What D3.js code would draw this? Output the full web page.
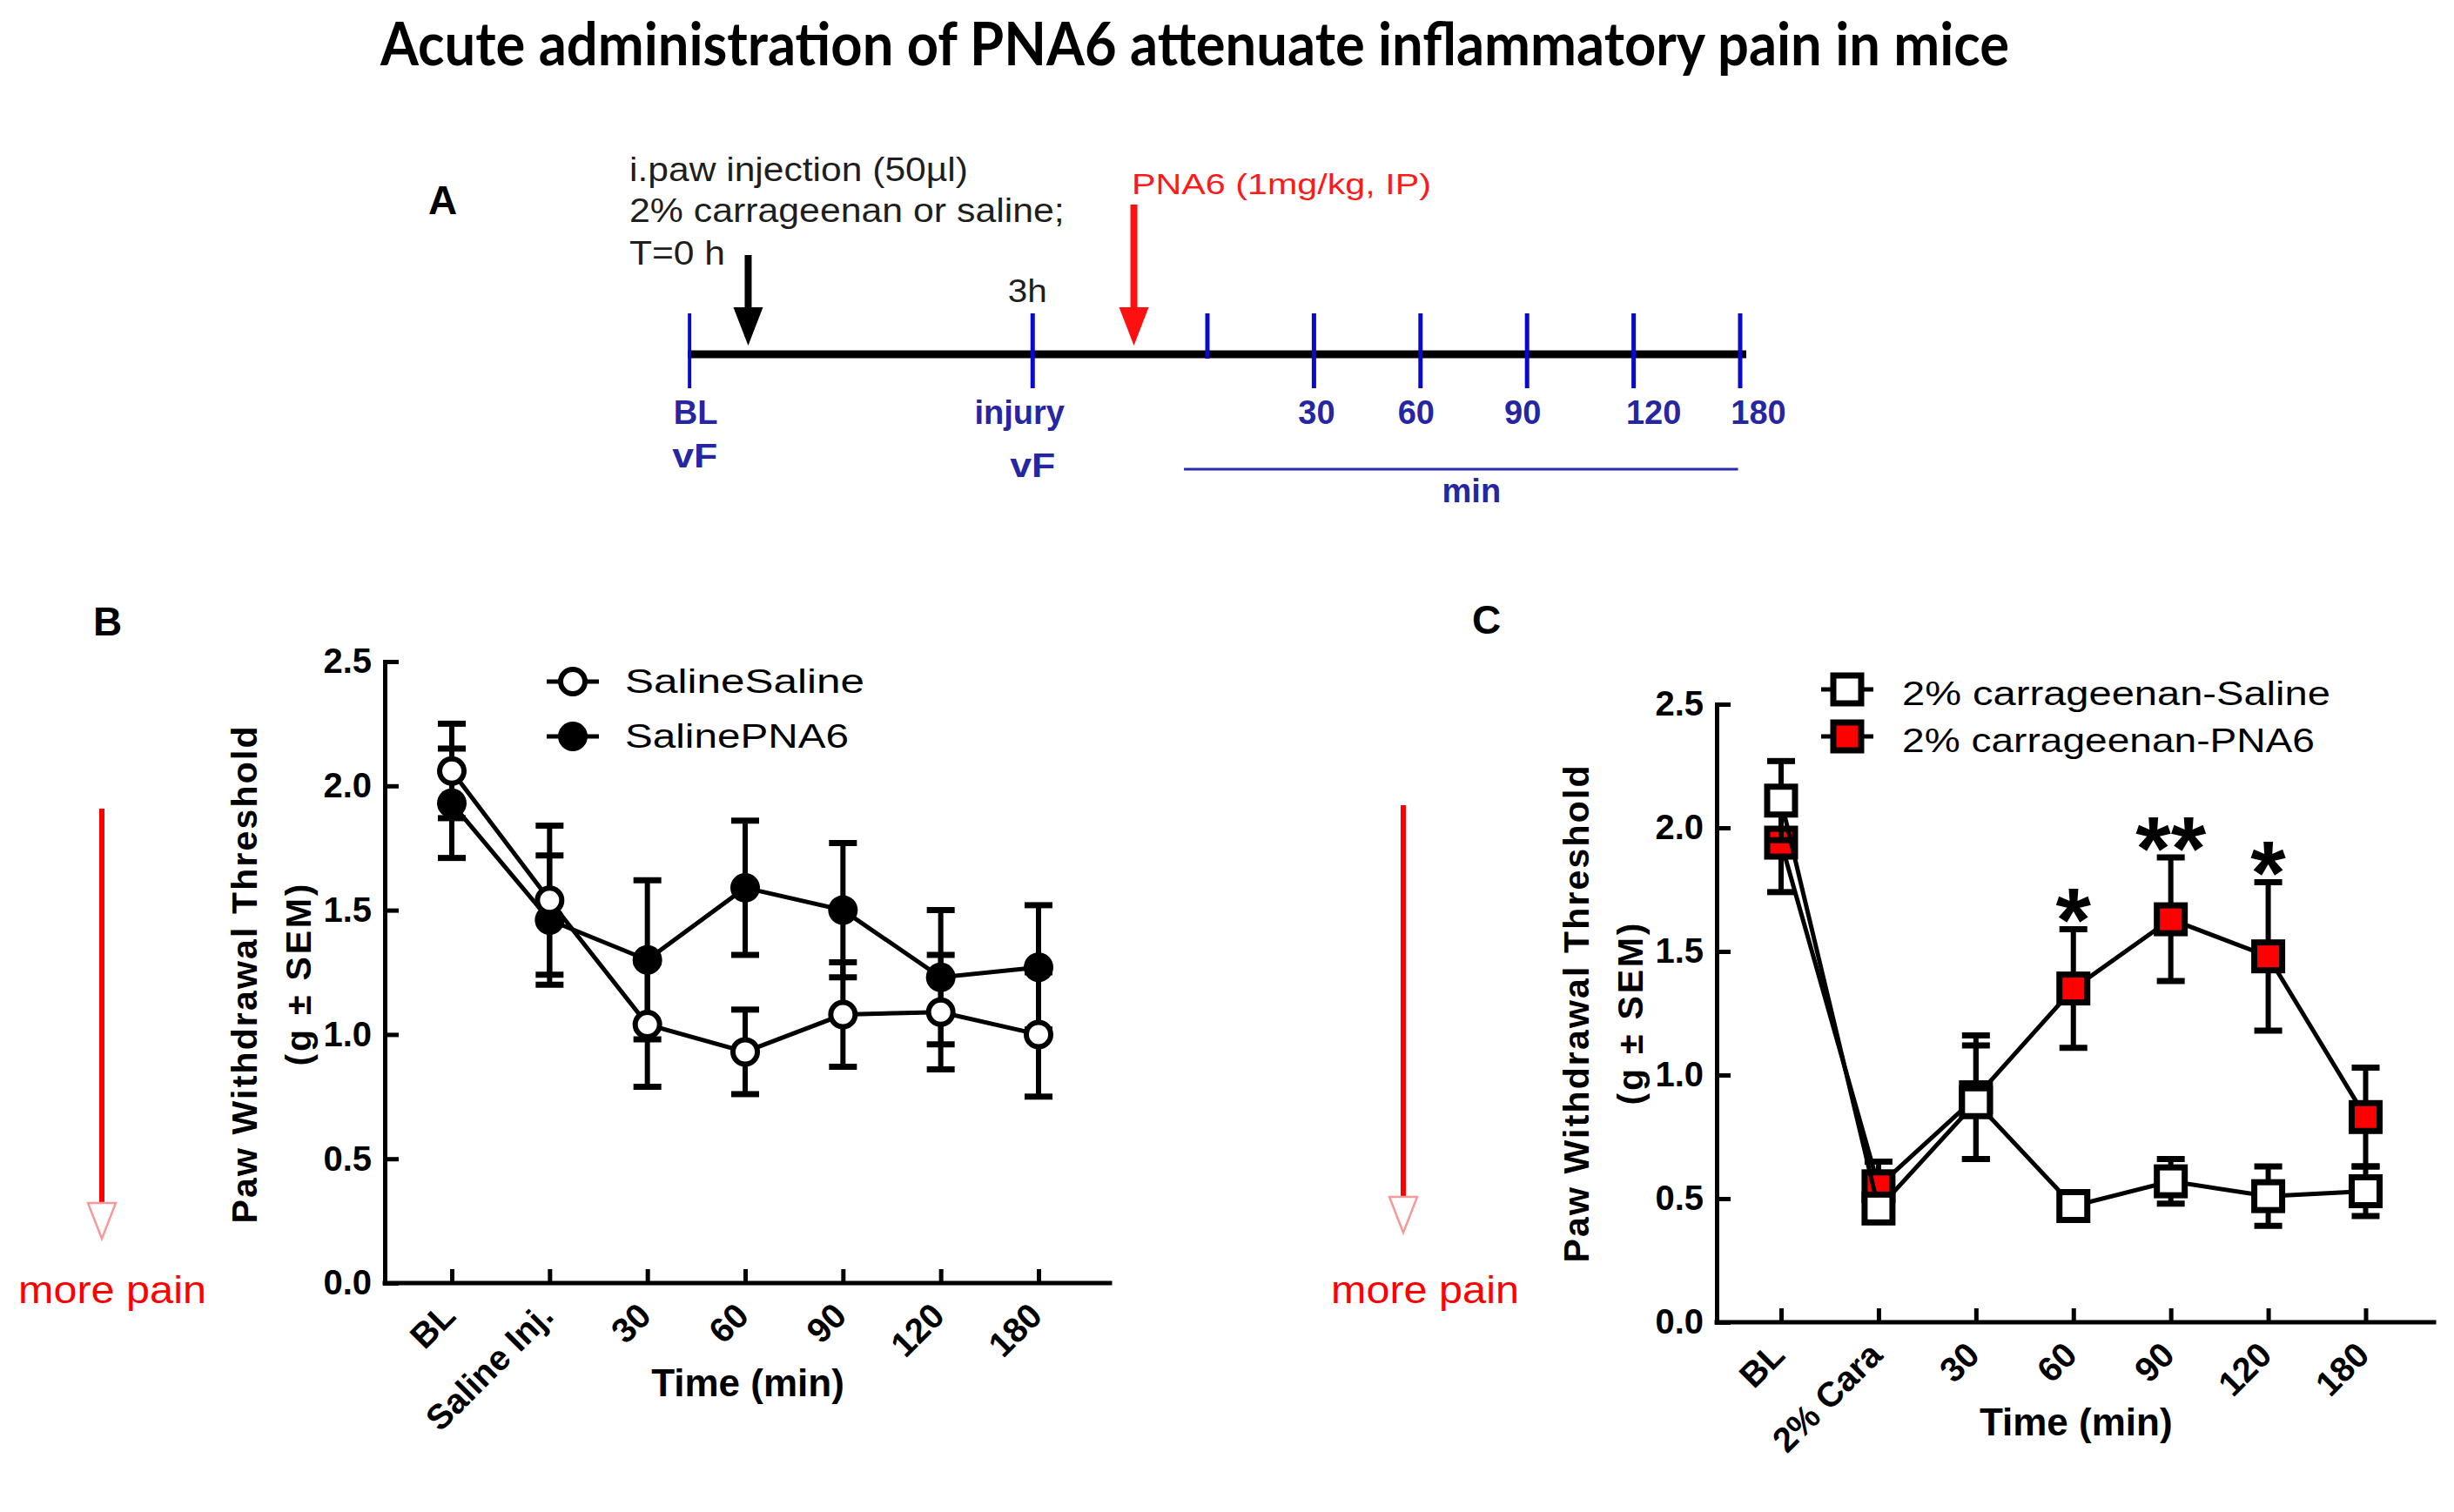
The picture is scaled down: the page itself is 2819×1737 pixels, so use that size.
<!DOCTYPE html>
<html>
<head>
<meta charset="utf-8">
<script src="https://cdn.jsdelivr.net/npm/d3@7"></script>
<style>
  body { margin: 0; background: #fff; }
  svg { display: block; }
</style>
</head>
<body>
<div class="chart"></div>
<script>
// ---- data ----
const title = "Acute administration of PNA6 attenuate inflammatory pain in mice";

// panel A timeline (schematic slots, 1 slot = one 30 min step after PNA6)
const timelineLabels = ["BL", "injury", "", "30", "60", "90", "120", "180"];
const timelineSlots = [-4.86, -1.64, 0, 1, 2, 3, 4, 5];
const injectionSlot = -4.31;
const pna6Slot = -0.69;

// panel B
const timeB = ["BL", "Saline Inj.", "30", "60", "90", "120", "180"];
const salineSalineMean = [2.06, 1.54, 1.04, 0.93, 1.08, 1.09, 1.00];
const salineSalineSem  = [0.19, 0.30, 0.25, 0.17, 0.21, 0.23, 0.25];
const salinePna6Mean   = [1.93, 1.46, 1.30, 1.59, 1.50, 1.23, 1.27];
const salinePna6Sem    = [0.22, 0.26, 0.32, 0.27, 0.27, 0.27, 0.25];

// panel C
const timeC = ["BL", "2% Cara", "30", "60", "90", "120", "180"];
const caraSalineMean = [2.11, 0.46, 0.89, 0.47, 0.57, 0.51, 0.53];
const caraSalineSem  = [0.16, 0.05, 0.23, 0.04, 0.09, 0.12, 0.10];
const caraPna6Mean   = [1.94, 0.55, 0.91, 1.35, 1.63, 1.48, 0.83];
const caraPna6Sem    = [0.20, 0.10, 0.25, 0.24, 0.25, 0.30, 0.20];
const caraStars      = ["", "", "", "*", "**", "*", ""];

const yTicks = [0, 0.5, 1, 1.5, 2, 2.5];

// ---- drawing ----
const W = 2819, H = 1737;
const FONT = "'Liberation Sans', Arial, sans-serif";

const svg = d3.select(".chart").append("svg")
    .attr("width", W)
    .attr("height", H)
    .style("font-family", FONT);

// stretch a text along its own direction to a given width
function fit(sel, w) {
    sel.each(function() {
        const t = d3.select(this);
        const k = w / this.getBBox().width;
        t.attr("transform", (t.attr("transform") || "") + ` scale(${k},1)`);
    });
}

function label(x, y, str, size, opts = {}) {
    const t = svg.append("text")
        .attr("transform", `translate(${x},${y})` + (opts.rotate ? ` rotate(${opts.rotate})` : ""))
        .attr("font-size", size)
        .attr("font-weight", opts.bold ? "bold" : "normal")
        .attr("font-family", opts.family || FONT)
        .attr("text-anchor", opts.anchor || "start")
        .attr("fill", opts.fill || "#000")
        .text(str);
    if (opts.width) fit(t, opts.width);
    return t;
}

function arrow(x, y1, y2, o) {
    svg.append("line")
        .attr("x1", x).attr("x2", x)
        .attr("y1", y1).attr("y2", y2 - o.head + 2)
        .attr("stroke", o.color)
        .attr("stroke-width", o.shaft);
    svg.append("path")
        .attr("d", `M${x - o.half},${y2 - o.head}L${x + o.half},${y2 - o.head}L${x},${y2}Z`)
        .attr("fill", o.fill || o.color)
        .attr("stroke", o.stroke || "none")
        .attr("stroke-width", o.strokeW || 0);
}

// title
label(437, 75, title, 69, {bold: true, family: "Lato, 'Open Sans', sans-serif", width: 1872});

// panel letters
label(492, 246, "A", 46, {bold: true});
label(107, 730, "B", 46, {bold: true});
label(1691, 728, "C", 46, {bold: true});

// ---- panel A ----
const tl = d3.scaleLinear().domain([0, 5]).range([1387, 1999]);
const lineY = 407;
const blue = "#0a0ac8", blueText = "#2626a2";

label(723, 208, "i.paw injection  (50\u00b5l)", 38, {fill: "#1e1e1e", width: 389});
label(723, 255, "2% carrageenan or saline;", 38, {fill: "#1e1e1e", width: 500});
label(723, 304, "T=0 h", 38, {fill: "#1e1e1e", width: 110});
label(tl(-1.64) - 6, 347, "3h", 36, {anchor: "middle", fill: "#1e1e1e", width: 45});
label(1300, 223, "PNA6 (1mg/kg, IP)", 33, {fill: "#ff1a1a", width: 344});

svg.append("line")
    .attr("x1", tl(timelineSlots[0]) - 2).attr("x2", tl(5) + 7)
    .attr("y1", lineY).attr("y2", lineY)
    .attr("stroke", "#000").attr("stroke-width", 9);

svg.append("g").selectAll("line")
    .data(timelineSlots)
    .join("line")
    .attr("x1", d => tl(d)).attr("x2", d => tl(d))
    .attr("y1", 360)
    .attr("y2", (d, i) => timelineLabels[i] === "" ? 412 : 446)
    .attr("stroke", blue)
    .attr("stroke-width", (d, i) => i === 0 ? 4 : 5);

const tlNudge = [7, -15, 0, 3, -5, -5, 23, 21];
svg.append("g")
    .attr("font-size", 38)
    .attr("font-weight", "bold")
    .attr("fill", blueText)
    .attr("text-anchor", "middle")
    .selectAll("text")
    .data(timelineSlots)
    .join("text")
    .attr("x", (d, i) => tl(d) + tlNudge[i])
    .attr("y", 487)
    .text((d, i) => timelineLabels[i]);

label(tl(timelineSlots[0]) + 6, 537, "vF", 38, {bold: true, fill: blueText, anchor: "middle", width: 52});
label(tl(timelineSlots[1]), 548, "vF", 38, {bold: true, fill: blueText, anchor: "middle", width: 52});

svg.append("line")
    .attr("x1", tl(-0.22)).attr("x2", tl(4.98))
    .attr("y1", 539).attr("y2", 539)
    .attr("stroke", "#2a2ab0").attr("stroke-width", 3);
label((tl(-0.22) + tl(4.98)) / 2 + 12, 577, "min", 38, {bold: true, fill: blueText, anchor: "middle"});

arrow(tl(injectionSlot), 293, 397, {color: "#000", shaft: 8, head: 44, half: 17});
arrow(tl(pna6Slot), 235, 397, {color: "#ff1010", shaft: 8, head: 44, half: 17});

// ---- panels B and C ----
const markers = {
    openCircle: g => g.append("circle").attr("r", 14).attr("fill", "#fff").attr("stroke", "#000").attr("stroke-width", 6),
    filledCircle: g => g.append("circle").attr("r", 17).attr("fill", "#000"),
    openSquare: g => g.append("rect").attr("x", -16).attr("y", -16).attr("width", 32).attr("height", 32)
        .attr("fill", "#fff").attr("stroke", "#000").attr("stroke-width", 7),
    redSquare: g => g.append("rect").attr("x", -16).attr("y", -16).attr("width", 32).attr("height", 32)
        .attr("fill", "#ff0000").attr("stroke", "#000").attr("stroke-width", 7)
};

function panel(cfg) {
    const g = svg.append("g");
    const x = d3.scalePoint().domain(cfg.cats).range(cfg.xr);
    const y = d3.scaleLinear().domain([0, 2.5]).range(cfg.yr);

    // y axis, ticks pointing inward
    g.append("g")
        .attr("transform", `translate(${cfg.x0},0)`)
        .call(d3.axisLeft(y).tickValues(yTicks).tickFormat(d3.format(".1f"))
            .tickSizeInner(-16).tickSizeOuter(0).tickPadding(15))
        .call(a => a.select(".domain").attr("stroke-width", 5).attr("stroke-linecap", "square"))
        .call(a => a.selectAll(".tick line").attr("stroke-width", 5))
        .call(a => a.selectAll(".tick text")
            .attr("font-size", 40).attr("font-weight", "bold").attr("font-family", FONT).attr("fill", "#000"));

    // x axis
    g.append("g")
        .attr("transform", `translate(0,${y(0)})`)
        .call(d3.axisBottom(x).tickSizeInner(-16).tickSizeOuter(0))
        .call(a => a.select(".domain").remove())
        .call(a => a.selectAll(".tick line").attr("stroke-width", 5))
        .call(a => a.selectAll(".tick text")
            .attr("font-size", 40).attr("font-weight", "bold").attr("font-family", FONT).attr("fill", "#000")
            .attr("x", 0).attr("y", 0).attr("dy", 0)
            .attr("text-anchor", "end")
            .attr("transform", "translate(6,40) rotate(-45)"));
    g.append("line")
        .attr("x1", cfg.x0).attr("x2", cfg.xEnd)
        .attr("y1", y(0)).attr("y2", y(0))
        .attr("stroke", "#000").attr("stroke-width", 5).attr("stroke-linecap", "square");

    // axis titles
    g.append("text")
        .attr("transform", `translate(${cfg.x0 - 147},${cfg.ym}) rotate(-90)`)
        .attr("text-anchor", "middle").attr("font-size", 41).attr("font-weight", "bold")
        .attr("textLength", 571).attr("lengthAdjust", "spacing")
        .text("Paw Withdrawal Threshold");
    g.append("text")
        .attr("transform", `translate(${cfg.x0 - 85},${cfg.ym}) rotate(-90)`)
        .attr("text-anchor", "middle").attr("font-size", 41).attr("font-weight", "bold")
        .attr("textLength", 209).attr("lengthAdjust", "spacing")
        .text("(g \u00b1 SEM)");
    g.append("text")
        .attr("x", (cfg.xr[0] + cfg.xr[1]) / 2 + 3).attr("y", y(0) + 130)
        .attr("text-anchor", "middle").attr("font-size", 44).attr("font-weight", "bold")
        .text("Time (min)");

    // series
    cfg.series.forEach(s => {
        const pts = cfg.cats.map((c, i) => ({c, m: s.mean[i], s: s.sem[i], star: s.stars ? s.stars[i] : ""}));
        const sg = g.append("g");
        sg.append("path")
            .datum(pts)
            .attr("fill", "none").attr("stroke", "#000").attr("stroke-width", 5)
            .attr("d", d3.line().x(d => x(d.c)).y(d => y(d.m)));
        const eb = sg.append("g").attr("stroke", "#000")
            .selectAll("g").data(pts).join("g");
        eb.append("line")
            .attr("x1", d => x(d.c)).attr("x2", d => x(d.c))
            .attr("y1", d => y(d.m - d.s)).attr("y2", d => y(d.m + d.s))
            .attr("stroke-width", 6);
        eb.selectAll(".cap")
            .data(d => [d.m - d.s, d.m + d.s].map(v => ({c: d.c, v})))
            .join("line")
            .attr("x1", d => x(d.c) - 16).attr("x2", d => x(d.c) + 16)
            .attr("y1", d => y(d.v)).attr("y2", d => y(d.v))
            .attr("stroke-width", 7);
        sg.append("g").selectAll("g").data(pts).join("g")
            .attr("transform", d => `translate(${x(d.c)},${y(d.m)})`)
            .call(s.marker);
        sg.append("g")
            .attr("font-size", 104).attr("font-weight", "bold").attr("text-anchor", "middle")
            .selectAll("text").data(pts.filter(d => d.star)).join("text")
            .attr("x", d => x(d.c)).attr("y", d => y(d.m + d.s) + 26)
            .text(d => d.star);
    });

    // legend
    cfg.legend.forEach((l, i) => {
        const ly = cfg.legY[i];
        g.append("line")
            .attr("x1", cfg.legX - 30).attr("x2", cfg.legX + 30)
            .attr("y1", ly).attr("y2", ly)
            .attr("stroke", "#000").attr("stroke-width", 5);
        g.append("g").attr("transform", `translate(${cfg.legX},${ly})`).call(l.marker);
        const t = g.append("text")
            .attr("transform", `translate(${cfg.legTextX},${ly + cfg.legDy})`)
            .attr("font-size", 38)
            .text(l.text);
        fit(t, l.width);
    });

    // "more pain" arrow
    arrow(cfg.painX, cfg.painY1, cfg.painY2, {color: "#ff0000", shaft: 6, head: 41, half: 16,
        fill: "#fff", stroke: "#f59a9a", strokeW: 2.5});
    label(cfg.painTextX, 1497, "more pain", 44, {fill: "#ff0000", width: 216});
}

panel({
    cats: timeB, x0: 442, xEnd: 1275, xr: [519, 1193], yr: [1474, 760], ym: 1120,
    series: [
        {mean: salinePna6Mean, sem: salinePna6Sem, marker: markers.filledCircle},
        {mean: salineSalineMean, sem: salineSalineSem, marker: markers.openCircle}
    ],
    legend: [
        {text: "SalineSaline", marker: markers.openCircle, width: 275},
        {text: "SalinePNA6", marker: markers.filledCircle, width: 257}
    ],
    legX: 658, legY: [783, 846], legTextX: 718, legDy: 13,
    painX: 117, painY1: 929, painY2: 1423, painTextX: 21
});

panel({
    cats: timeC, x0: 1972, xEnd: 2796, xr: [2046, 2717.5], yr: [1519, 809], ym: 1165,
    series: [
        {mean: caraPna6Mean, sem: caraPna6Sem, marker: markers.redSquare, stars: caraStars},
        {mean: caraSalineMean, sem: caraSalineSem, marker: markers.openSquare}
    ],
    legend: [
        {text: "2% carrageenan-Saline", marker: markers.openSquare, width: 492},
        {text: "2% carrageenan-PNA6", marker: markers.redSquare, width: 474}
    ],
    legX: 2122, legY: [792, 846], legTextX: 2185, legDy: 18,
    painX: 1612, painY1: 925, painY2: 1416, painTextX: 1529
});
</script>
</body>
</html>
